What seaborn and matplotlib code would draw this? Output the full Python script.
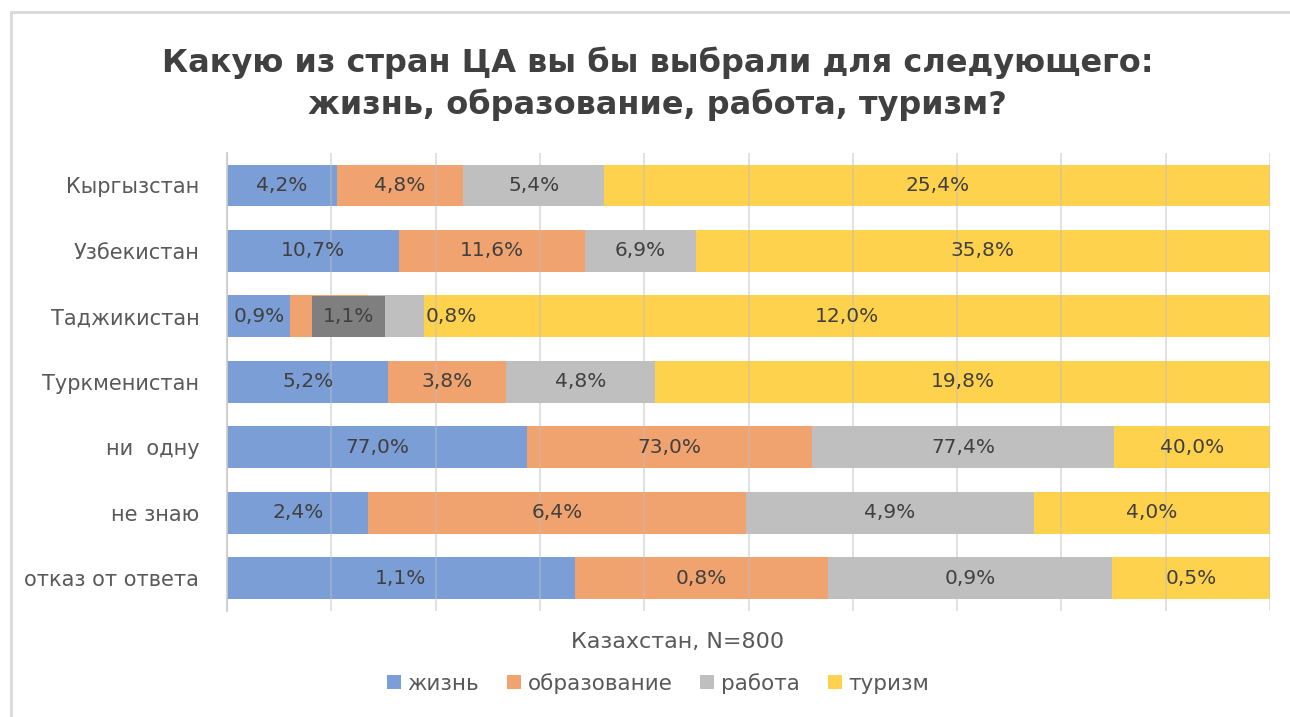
import numpy as np
import pandas as pd
import matplotlib.pyplot as plt
import seaborn as sns
from matplotlib.patches import Patch
from matplotlib.lines import Line2D

# Chart data (values shown as data labels; bars are scaled to 100% per row)
categories = ['Кыргызстан', 'Узбекистан', 'Таджикистан', 'Туркменистан',
              'ни  одну', 'не знаю', 'отказ от ответа']
series = ['жизнь', 'образование', 'работа', 'туризм']
life = [4.2, 10.7, 0.9, 5.2, 77.0, 2.4, 1.1]
education = [4.8, 11.6, 1.1, 3.8, 73.0, 6.4, 0.8]
work = [5.4, 6.9, 0.8, 4.8, 77.4, 4.9, 0.9]
tourism = [25.4, 35.8, 12.0, 19.8, 40.0, 4.0, 0.5]

COLORS = ['#7B9ED6', '#F0A36E', '#BFBFBF', '#FFD24D']
TEXT = '#404040'

sns.set_theme(style='white')
plt.rcParams['font.family'] = ['DejaVu Sans']

values = np.array([life, education, work, tourism])
shares = values / values.sum(axis=0) * 100
cum = np.cumsum(shares, axis=0)

fig = plt.figure(figsize=(12.9, 7.17), dpi=100)
ax = fig.add_axes([0.176, 0.148, 0.8085, 0.639])

# draw stacked bars from the right end back to the left
for k in range(len(series) - 1, -1, -1):
    df = pd.DataFrame({'cat': categories, 'val': cum[k]})
    sns.barplot(data=df, x='val', y='cat', orient='h', color=COLORS[k],
                saturation=1, width=0.64, linewidth=0, ax=ax)

# data labels
for k in range(len(series)):
    for i in range(len(categories)):
        center = cum[k, i] - shares[k, i] / 2
        label = f'{values[k, i]:.1f}%'.replace('.', ',')
        dx = 0
        box = None
        if categories[i] == 'Таджикистан' and k == 1:
            dx = 14
            box = dict(boxstyle='square,pad=0.55', fc='#7F7F7F', ec='none')
        if categories[i] == 'Таджикистан' and k == 2:
            dx = 40
        ax.annotate(label, (center, i), xytext=(dx, 0), textcoords='offset points',
                    ha='center', va='center', fontsize=14.5, color=TEXT, bbox=box,
                    zorder=4)

ax.set_xlim(0, 100)
ax.set_ylim(6.5, -0.5)
ax.set_xticks(np.arange(0, 101, 10))
ax.set_xticklabels([])
ax.set_xlabel('')
ax.set_ylabel('')
ax.set_axisbelow(False)
ax.xaxis.grid(True, color='#BFBFBF', alpha=0.5, linewidth=1.3)
ax.yaxis.grid(False)
ax.tick_params(axis='both', length=0)
ax.tick_params(axis='y', labelsize=15, labelcolor='#595959', pad=20)
for s in ['top', 'right', 'bottom']:
    ax.spines[s].set_visible(False)
ax.spines['left'].set_color('#D0D0D0')
ax.spines['left'].set_linewidth(1.3)

fig.text(0.51, 0.883, 'Какую из стран ЦА вы бы выбрали для следующего:\nжизнь, образование, работа, туризм?',
         ha='center', va='center', fontsize=23, fontweight='bold', color=TEXT,
         linespacing=1.38)
fig.text(0.525, 0.105, 'Казахстан, N=800', ha='center', va='center',
         fontsize=16, color='#595959')

handles = [Patch(facecolor=c, edgecolor='none') for c in COLORS]
fig.legend(handles, series, loc='center', bbox_to_anchor=(0.51, 0.047), ncol=4,
           frameon=False, fontsize=15.5, handlelength=0.65, handleheight=0.65,
           handletextpad=0.3, columnspacing=1.3, labelcolor='#595959')

# chart frame (only top and left edges visible in the crop)
fig.add_artist(Line2D([0.0085, 0.0085], [0, 0.983], color='#D9D9D9', lw=2))
fig.add_artist(Line2D([0.0085, 1], [0.983, 0.983], color='#D9D9D9', lw=2))

fig.savefig('out.png', dpi=100)
